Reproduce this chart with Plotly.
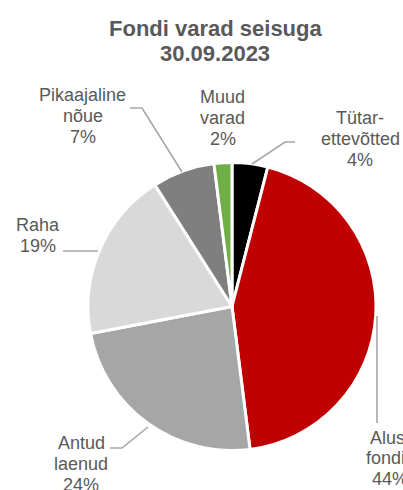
import plotly.graph_objects as go

# ---- data ----
categories = ["Tütar-ettevõtted", "Alusfondid", "Antud laenud", "Raha", "Pikaajaline nõue", "Muud varad"]
values = [4, 44, 24, 19, 7, 2]
label_lines = [
    ["Tütar-", "ettevõtted"],
    ["Alus-", "fondid"],
    ["Antud", "laenud"],
    ["Raha"],
    ["Pikaajaline", "nõue"],
    ["Muud", "varad"],
]
colors = ["#000000", "#C00000", "#A6A6A6", "#D9D9D9", "#7F7F7F", "#70AD47"]
title_lines = ["Fondi varad seisuga", "30.09.2023"]

# ---- layout helpers (pixel positions) ----
W, H = 403, 490
FONT = "Arial, Liberation Sans, sans-serif"
TXT = "#595959"


def px(x):
    return x / W


def py(y):
    return 1 - y / H


# label block: center x, first baseline, line spacing
label_pos = [
    (360, 121.7, 21.1),
    (390, 441.7, 20.7),
    (81, 446.7, 21.0),
    (37.5, 229.0, 21.0),
    (82.5, 99.3, 20.7),
    (222.5, 100.7, 21.0),
]
leaders = [
    [(295, 142), (285, 142), (252, 164)],
    [(377, 316), (377, 423)],
    [(110, 448), (122, 448), (148, 427)],
    [(63, 251), (98, 251)],
    [(130, 108), (142, 108), (182, 172)],
    None,
]

total = sum(values)
annotations = []
shapes = []
for i, (cat, v) in enumerate(zip(categories, values)):
    pct = f"{round(100 * v / total)}%"
    lines = label_lines[i] + [pct]
    cx, b0, ls = label_pos[i]
    for j, t in enumerate(lines):
        base = b0 + j * ls
        annotations.append(dict(
            text=t, x=px(cx), y=py(base - 4.0), xref="paper", yref="paper",
            xanchor="center", yanchor="middle", showarrow=False,
            font=dict(family=FONT, size=18, color=TXT),
        ))
    if leaders[i]:
        pts = leaders[i]
        path = "M " + " L ".join(f"{px(a)} {py(b)}" for a, b in pts)
        shapes.append(dict(type="path", path=path, xref="paper", yref="paper",
                           line=dict(color="#A6A6A6", width=1.6)))

for j, t in enumerate(title_lines):
    base = 34.7 + j * 25.3
    annotations.append(dict(
        text=f"<b>{t}</b>", x=px(215), y=py(base - 6.5), xref="paper", yref="paper",
        xanchor="center", yanchor="middle", showarrow=False,
        font=dict(family=FONT, size=22, color=TXT),
    ))

cxp, cyp, r = 232, 306.5, 144
fig = go.Figure(go.Pie(
    labels=categories, values=values, sort=False, direction="clockwise",
    rotation=0, textinfo="none", hoverinfo="label+percent",
    marker=dict(colors=colors, line=dict(color="#FFFFFF", width=3)),
    domain=dict(x=[px(cxp - r), px(cxp + r)], y=[py(cyp + r), py(cyp - r)]),
))
fig.update_layout(
    width=W, height=H, margin=dict(l=0, r=0, t=0, b=0),
    paper_bgcolor="white", plot_bgcolor="white", showlegend=False,
    annotations=annotations, shapes=shapes,
)
fig.write_html("out.html", config={"displayModeBar": False},
               post_script="document.body.style.margin='0';")
